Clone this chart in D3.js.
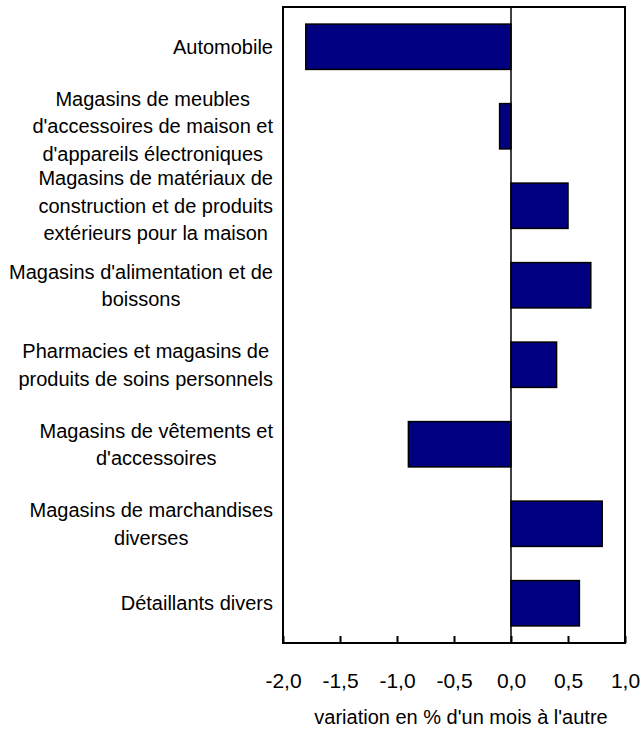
<!DOCTYPE html>
<html lang="fr">
<head>
<meta charset="utf-8">
<title>Variation des ventes au détail</title>
<script src="https://cdn.jsdelivr.net/npm/d3@7"></script>
<style>
  body { margin: 0; background: #fff; }
  svg text { font-family: "Liberation Sans", Arial, Helvetica, sans-serif; fill: #000; }
  .bar { fill: #000080; stroke: #000; stroke-width: 1.5px; }
</style>
</head>
<body>
<div id="chart"></div>
<script>
// categories, each one split into the lines shown in the picture
var categories = [
  ["Automobile"],
  ["Magasins de meubles", "d'accessoires de maison et", "d'appareils électroniques"],
  ["Magasins de matériaux de", "construction et de produits", "extérieurs pour la maison"],
  ["Magasins d'alimentation et de", "boissons"],
  ["Pharmacies et magasins de", "produits de soins personnels"],
  ["Magasins de vêtements et", "d'accessoires"],
  ["Magasins de marchandises", "diverses"],
  ["Détaillants divers"]
];
var values = [-1.8, -0.1, 0.5, 0.7, 0.4, -0.9, 0.8, 0.6];
var xTicks = [-2.0, -1.5, -1.0, -0.5, 0.0, 0.5, 1.0];
var xTitle = "variation en % d'un mois à l'autre";

var width = 642, height = 729;
var margin = { top: 7, right: 17, bottom: 86, left: 283 };

var svg = d3.select("#chart")
  .append("svg")
  .attr("width", width)
  .attr("height", height);

var x = d3.scaleLinear()
  .domain([-2, 1])
  .range([margin.left, width - margin.right]);

var y = d3.scaleBand()
  .domain(d3.range(categories.length))
  .range([margin.top, height - margin.bottom])
  .paddingInner(0.43)
  .paddingOuter(0.215);

// bars
svg.append("g")
  .selectAll("rect")
  .data(values)
  .join("rect")
  .attr("class", "bar")
  .attr("x", function (d) { return x(Math.min(0, d)); })
  .attr("y", function (d, i) { return y(i); })
  .attr("width", function (d) { return Math.abs(x(d) - x(0)); })
  .attr("height", y.bandwidth());

// zero line
svg.append("line")
  .attr("x1", x(0)).attr("x2", x(0))
  .attr("y1", margin.top).attr("y2", height - margin.bottom)
  .attr("stroke", "#000")
  .attr("stroke-width", 1.5);

// x axis, ticks pointing inwards
var axis = svg.append("g")
  .attr("transform", "translate(0," + (height - margin.bottom) + ")")
  .call(d3.axisBottom(x)
    .tickValues(xTicks)
    .tickSize(-7)
    .tickPadding(30)
    .tickFormat(function (d) { return d3.format(".1f")(d).replace(".", ",").replace("−", "-"); }));

axis.select(".domain").remove();
axis.selectAll(".tick line").attr("stroke", "#000").attr("stroke-width", 2);
axis.selectAll(".tick text")
  .attr("font-size", 21)
  .style("font-family", "'Liberation Sans', Arial, Helvetica, sans-serif");

// frame
svg.append("rect")
  .attr("x", margin.left)
  .attr("y", margin.top)
  .attr("width", width - margin.right - margin.left)
  .attr("height", height - margin.bottom - margin.top)
  .attr("fill", "none")
  .attr("stroke", "#000")
  .attr("stroke-width", 2);

// category labels: lines centred on each other, block right aligned
var lineH = 27.5;
var labelRight = 273;
categories.forEach(function (lines, i) {
  var cy = y(i) + y.bandwidth() / 2;
  var g = svg.append("g");
  var texts = g.selectAll("text")
    .data(lines)
    .join("text")
    .attr("font-size", 20)
    .attr("text-anchor", "middle")
    .attr("dy", "0.35em")
    .attr("y", function (d, j) { return cy + (j - (lines.length - 1) / 2) * lineH; })
    .text(function (d) { return d; });
  var maxW = d3.max(texts.nodes(), function (n) { return n.getComputedTextLength(); });
  texts.attr("x", labelRight - maxW / 2);
});

// axis title
svg.append("text")
  .attr("x", 461)
  .attr("y", 724)
  .attr("text-anchor", "middle")
  .attr("font-size", 20)
  .text(xTitle);
</script>
</body>
</html>
